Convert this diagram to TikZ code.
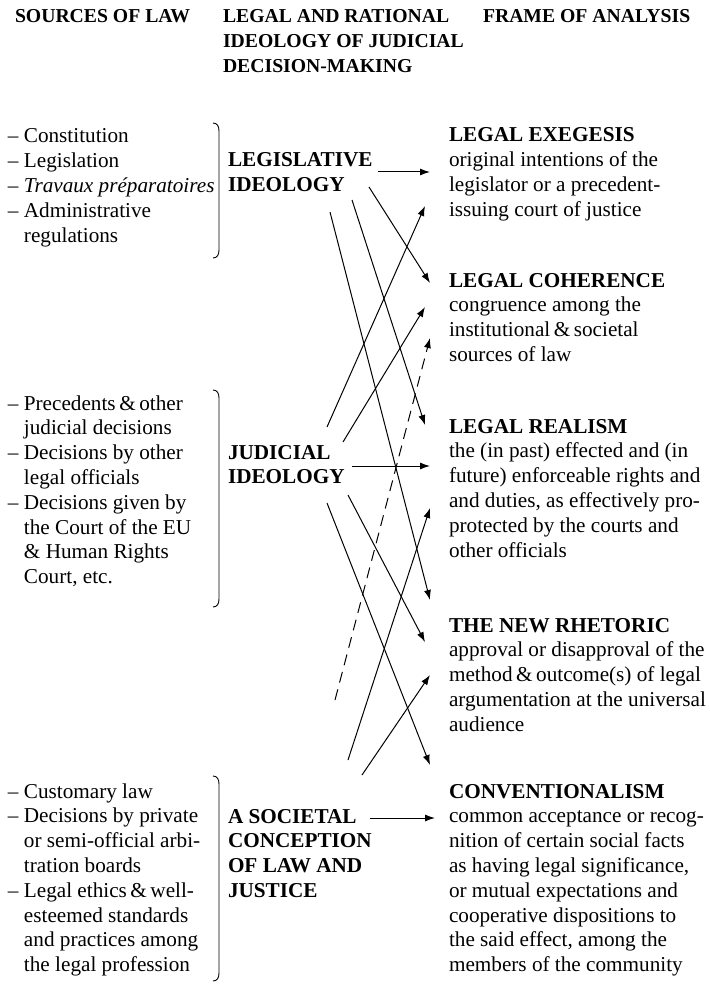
\documentclass[tikz,border=0pt]{standalone}
\usepackage{fontspec}
\setmainfont{Liberation Serif}
\usetikzlibrary{arrows.meta}
\tikzset{
  body/.style={anchor=north west, inner sep=0pt, outer sep=0pt, align=left,
    font=\fontsize{21.2}{24.8}\selectfont},
  boldbody/.style={body, font=\fontsize{21.2}{24.8}\selectfont\bfseries},
  head/.style={anchor=north west, inner sep=0pt, outer sep=0pt, align=left,
    font=\fontsize{19.7}{25}\selectfont\bfseries},
  link/.style={line width=1pt, -{Latex[length=10pt,width=7pt]}},
  dlink/.style={link, dash pattern=on 11pt off 7pt},
  bracket/.style={line width=0.9pt},
}
\newcommand\ind{\hspace*{16pt}}
\begin{document}
\begin{tikzpicture}[x=1pt,y=-1pt]
\useasboundingbox (0,0) rectangle (709,984);
% headers (first baseline y = north + 17.5)
\node[head] (h1) at (15,5.5) {\strut SOURCES OF LAW};
\node[head] (h2) at (223,5.5) {\strut LEGAL AND RATIONAL\\IDEOLOGY OF JUDICIAL\\DECISION-MAKING};
\node[head] (h3) at (483,5.5) {\strut FRAME OF ANALYSIS};
% sources (first baseline y = north + 17.36)
\node[body] (s1) at (8,143-17.36) {\strut – Constitution\\– Legislation\\– \textit{Travaux préparatoires}\\– Administrative\\\ind regulations};
\node[body] (s2) at (8,410-17.36) {\strut – Precedents\,\&\,other\\\ind judicial decisions\\– Decisions by other\\\ind legal officials\\– Decisions given by\\\ind the Court of the EU\\\ind \&~Human Rights\\\ind Court, etc.};
\node[body] (s3) at (8,798-17.36) {\strut – Customary law\\– Decisions by private\\\ind or semi-official arbi-\\\ind tration boards\\– Legal ethics\,\&\,well-\\\ind esteemed standards\\\ind and practices among\\\ind the legal profession};
% brackets
\draw[bracket] (213,123) .. controls (217,123) and (219,126) .. (219,131) -- (219,250) .. controls (219,255) and (217,258) .. (213,258);
\draw[bracket] (213,390) .. controls (217,390) and (219,393) .. (219,398) -- (219,599) .. controls (219,604) and (217,607) .. (213,607);
\draw[bracket] (213,776) .. controls (217,776) and (219,779) .. (219,784) -- (219,973) .. controls (219,978) and (217,981) .. (213,981);
% ideologies
\node[boldbody] (i1) at (228,167-17.36) {\strut LEGISLATIVE\\IDEOLOGY};
\node[boldbody] (i2) at (228,459-17.36) {\strut JUDICIAL\\IDEOLOGY};
\node[boldbody] (i3) at (228,823-17.36) {\strut A SOCIETAL\\CONCEPTION\\OF LAW AND\\JUSTICE};
% frames
\node[body] (f1) at (449,142-17.36) {\strut\textbf{LEGAL EXEGESIS}\\original intentions of the\\legislator or a precedent-\\issuing court of justice};
\node[body] (f2) at (449,287-17.36) {\strut\textbf{LEGAL COHERENCE}\\congruence among the\\institutional\,\&\,societal\\sources of law};
\node[body] (f3) at (449,433-17.36) {\strut\textbf{LEGAL REALISM}\\the (in past) effected and (in\\future) enforceable rights and\\and duties, as effectively pro-\\protected by the courts and\\other officials};
\node[body] (f4) at (449,632-17.36) {\strut\textbf{THE NEW RHETORIC}\\approval or disapproval of the\\method\,\&\,outcome(s) of legal\\argumentation at the universal\\audience};
\node[body] (f5) at (449,798-17.36) {\strut\textbf{CONVENTIONALISM}\\common acceptance or recog-\\nition of certain social facts\\as having legal significance,\\or mutual expectations and\\cooperative dispositions to\\the said effect, among the\\members of the community};
% connector end points
\coordinate (L1s) at (378,172); \coordinate (L1e) at (430,172);
\coordinate (L2s) at (369,187); \coordinate (L2e) at (430,283);
\coordinate (L3s) at (352,200); \coordinate (L3e) at (425,425);
\coordinate (L4s) at (330,212); \coordinate (L4e) at (430,600);
\coordinate (J1s) at (327,427); \coordinate (J1e) at (425,206);
\coordinate (J2s) at (343,442); \coordinate (J2e) at (425,307);
\coordinate (J3s) at (352,466); \coordinate (J3e) at (430,466);
\coordinate (J4s) at (348,495); \coordinate (J4e) at (425,642);
\coordinate (J5s) at (327,503); \coordinate (J5e) at (430,765);
\coordinate (S1s) at (335,700); \coordinate (S1e) at (430,338);
\coordinate (S2s) at (348,760); \coordinate (S2e) at (430,508);
\coordinate (S3s) at (362,775); \coordinate (S3e) at (430,675);
\coordinate (S4s) at (370,818); \coordinate (S4e) at (435,818);
% connectors
\draw[link] (L1s) -- (L1e);
\draw[link] (L2s) -- (L2e);
\draw[link] (L3s) -- (L3e);
\draw[link] (L4s) -- (L4e);
\draw[link] (J1s) -- (J1e);
\draw[link] (J2s) -- (J2e);
\draw[link] (J3s) -- (J3e);
\draw[link] (J4s) -- (J4e);
\draw[link] (J5s) -- (J5e);
\draw[dlink] (S1s) -- (S1e);
\draw[link] (S2s) -- (S2e);
\draw[link] (S3s) -- (S3e);
\draw[link] (S4s) -- (S4e);
\end{tikzpicture}
\end{document}
